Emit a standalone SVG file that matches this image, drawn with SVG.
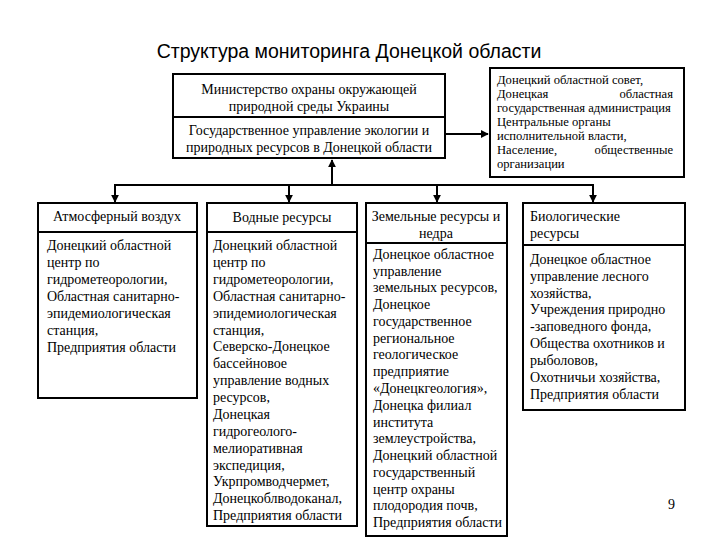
<svg xmlns="http://www.w3.org/2000/svg" width="720" height="540" viewBox="0 0 720 540">
<defs>
<style>
.bx{fill:#fff;stroke:#000;stroke-width:2}
.cn{stroke:#000;stroke-width:2;fill:none}
</style>
<marker id="ah" viewBox="0 0 10 10" refX="9" refY="5" markerWidth="4" markerHeight="4" orient="auto" markerUnits="strokeWidth">
<path d="M0,0 L10,5 L0,10 z" fill="#000"/>
</marker>
</defs>
<rect width="720" height="540" fill="#fff"/>
<text x="349" y="58" text-anchor="middle" font-family="Liberation Sans" font-size="19.5">Структура мониторинга Донецкой области</text>

<g id="connectors">
<line class="cn" x1="445" y1="134" x2="488" y2="134" marker-end="url(#ah)"/>
<line class="cn" x1="332" y1="185" x2="332" y2="160" marker-end="url(#ah)"/>
<line class="cn" x1="114" y1="185" x2="594" y2="185"/>
<line class="cn" x1="115" y1="185" x2="115" y2="202" marker-end="url(#ah)"/>
<line class="cn" x1="289" y1="185" x2="289" y2="202" marker-end="url(#ah)"/>
<line class="cn" x1="437" y1="185" x2="437" y2="202" marker-end="url(#ah)"/>
<line class="cn" x1="593" y1="185" x2="593" y2="202" marker-end="url(#ah)"/>
</g>

<g id="ministry">
<rect class="bx" x="173" y="74" width="272" height="43"/>
<text font-family="Liberation Serif" font-size="14" text-anchor="middle" x="309" y="94">Министерство охраны окружающей</text>
<text font-family="Liberation Serif" font-size="14" text-anchor="middle" x="309" y="111">природной среды Украины</text>
</g>
<g id="gov">
<rect class="bx" x="173" y="117" width="272" height="41"/>
<text font-family="Liberation Serif" font-size="14" text-anchor="middle" x="309" y="135">Государственное управление экологии и</text>
<text font-family="Liberation Serif" font-size="14" text-anchor="middle" x="309" y="152">природных ресурсов в Донецкой области</text>
</g>

<g id="council">
<rect class="bx" x="490" y="68" width="194" height="109" stroke-width="2.5"/>
<text font-family="Liberation Serif" font-size="12.6" x="497" y="84">Донецкий областной совет,</text>
<text font-family="Liberation Serif" font-size="12.6" x="497" y="98">Донецкая</text><text font-family="Liberation Serif" font-size="12.6" text-anchor="end" x="673" y="98">областная</text>
<text font-family="Liberation Serif" font-size="12.6" x="497" y="112">государственная администрация</text>
<text font-family="Liberation Serif" font-size="12.6" x="497" y="126">Центральные органы</text>
<text font-family="Liberation Serif" font-size="12.6" x="497" y="140">исполнительной власти,</text>
<text font-family="Liberation Serif" font-size="12.6" x="497" y="154">Население,</text><text font-family="Liberation Serif" font-size="12.6" text-anchor="end" x="673" y="154">общественные</text>
<text font-family="Liberation Serif" font-size="12.6" x="497" y="168">организации</text>
</g>

<g id="air">
<rect class="bx" x="38" y="203" width="159" height="29"/>
<text font-family="Liberation Serif" font-size="14" text-anchor="middle" x="117" y="221">Атмосферный воздух</text>
<rect class="bx" x="38" y="232" width="159" height="166"/>
<text font-family="Liberation Serif" font-size="14" x="47" y="250">Донецкий областной</text>
<text font-family="Liberation Serif" font-size="14" x="47" y="267">центр по</text>
<text font-family="Liberation Serif" font-size="14" x="47" y="284">гидрометеорологии,</text>
<text font-family="Liberation Serif" font-size="14" x="47" y="301">Областная санитарно-</text>
<text font-family="Liberation Serif" font-size="14" x="47" y="318">эпидемиологическая</text>
<text font-family="Liberation Serif" font-size="14" x="47" y="335">станция,</text>
<text font-family="Liberation Serif" font-size="14" x="47" y="352">Предприятия области</text>
</g>

<g id="water">
<rect class="bx" x="207" y="203" width="150" height="29"/>
<text font-family="Liberation Serif" font-size="14" text-anchor="middle" x="282" y="222">Водные ресурсы</text>
<rect class="bx" x="207" y="232" width="150" height="294"/>
<text font-family="Liberation Serif" font-size="14" x="213" y="250">Донецкий областной</text>
<text font-family="Liberation Serif" font-size="14" x="213" y="267">центр по</text>
<text font-family="Liberation Serif" font-size="14" x="213" y="284">гидрометеорологии,</text>
<text font-family="Liberation Serif" font-size="14" x="213" y="301">Областная санитарно-</text>
<text font-family="Liberation Serif" font-size="14" x="213" y="318">эпидемиологическая</text>
<text font-family="Liberation Serif" font-size="14" x="213" y="335">станция,</text>
<text font-family="Liberation Serif" font-size="14" x="213" y="351">Северско-Донецкое</text>
<text font-family="Liberation Serif" font-size="14" x="213" y="368">бассейновое</text>
<text font-family="Liberation Serif" font-size="14" x="213" y="385">управление водных</text>
<text font-family="Liberation Serif" font-size="14" x="213" y="402">ресурсов,</text>
<text font-family="Liberation Serif" font-size="14" x="213" y="419">Донецкая</text>
<text font-family="Liberation Serif" font-size="14" x="213" y="436">гидрогеолого-</text>
<text font-family="Liberation Serif" font-size="14" x="213" y="453">мелиоративная</text>
<text font-family="Liberation Serif" font-size="14" x="213" y="470">экспедиция,</text>
<text font-family="Liberation Serif" font-size="14" x="213" y="486">Укрпромводчермет,</text>
<text font-family="Liberation Serif" font-size="14" x="213" y="503">Донецкоблводоканал,</text>
<text font-family="Liberation Serif" font-size="14" x="213" y="520">Предприятия области</text>
</g>

<g id="land">
<rect class="bx" x="366" y="203" width="141" height="40"/>
<text font-family="Liberation Serif" font-size="14" text-anchor="middle" x="436" y="221">Земельные ресурсы и</text>
<text font-family="Liberation Serif" font-size="14" text-anchor="middle" x="436" y="238">недра</text>
<rect class="bx" x="366" y="243" width="141" height="293"/>
<text font-family="Liberation Serif" font-size="14" x="373" y="259">Донецкое областное</text>
<text font-family="Liberation Serif" font-size="14" x="373" y="276">управление</text>
<text font-family="Liberation Serif" font-size="14" x="373" y="292">земельных ресурсов,</text>
<text font-family="Liberation Serif" font-size="14" x="373" y="309">Донецкое</text>
<text font-family="Liberation Serif" font-size="14" x="373" y="326">государственное</text>
<text font-family="Liberation Serif" font-size="14" x="373" y="343">региональное</text>
<text font-family="Liberation Serif" font-size="14" x="373" y="359">геологическое</text>
<text font-family="Liberation Serif" font-size="14" x="373" y="376">предприятие</text>
<text font-family="Liberation Serif" font-size="14" x="373" y="393">«Донецкгеология»,</text>
<text font-family="Liberation Serif" font-size="14" x="373" y="410">Донецка филиал</text>
<text font-family="Liberation Serif" font-size="14" x="373" y="427">института</text>
<text font-family="Liberation Serif" font-size="14" x="373" y="443">землеустройства,</text>
<text font-family="Liberation Serif" font-size="14" x="373" y="460">Донецкий областной</text>
<text font-family="Liberation Serif" font-size="14" x="373" y="477">государственный</text>
<text font-family="Liberation Serif" font-size="14" x="373" y="494">центр охраны</text>
<text font-family="Liberation Serif" font-size="14" x="373" y="510">плодородия почв,</text>
<text font-family="Liberation Serif" font-size="14" x="373" y="527">Предприятия области</text>
</g>

<g id="bio">
<rect class="bx" x="523" y="203" width="162" height="42"/>
<text font-family="Liberation Serif" font-size="14" x="530" y="221">Биологические</text>
<text font-family="Liberation Serif" font-size="14" x="530" y="238">ресурсы</text>
<rect class="bx" x="523" y="245" width="162" height="165"/>
<text font-family="Liberation Serif" font-size="14" x="530" y="264">Донецкое областное</text>
<text font-family="Liberation Serif" font-size="14" x="530" y="281">управление лесного</text>
<text font-family="Liberation Serif" font-size="14" x="530" y="298">хозяйства,</text>
<text font-family="Liberation Serif" font-size="14" x="530" y="314">Учреждения природно</text>
<text font-family="Liberation Serif" font-size="14" x="530" y="331">-заповедного фонда,</text>
<text font-family="Liberation Serif" font-size="14" x="530" y="348">Общества охотников и</text>
<text font-family="Liberation Serif" font-size="14" x="530" y="365">рыболовов,</text>
<text font-family="Liberation Serif" font-size="14" x="530" y="382">Охотничьи хозяйства,</text>
<text font-family="Liberation Serif" font-size="14" x="530" y="399">Предприятия области</text>
</g>

<text font-family="Liberation Serif" font-size="14" x="668" y="509">9</text>
</svg>
